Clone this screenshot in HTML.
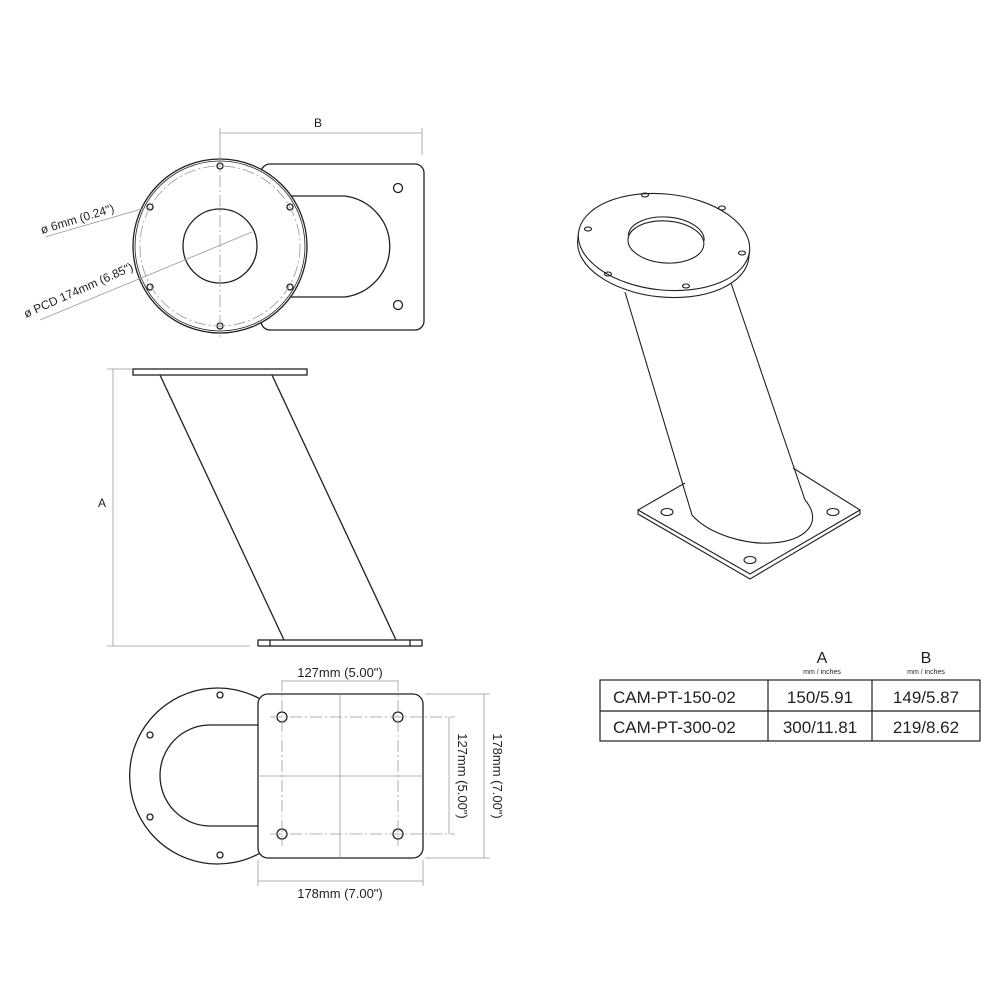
<!DOCTYPE html>
<html><head><meta charset="utf-8"><style>
html,body{margin:0;padding:0;background:#fff;width:1000px;height:1000px;overflow:hidden}
svg{display:block}
text{font-family:"Liberation Sans",sans-serif;fill:#231f20}
</style></head><body>
<svg width="1000" height="1000" viewBox="0 0 1000 1000" xmlns="http://www.w3.org/2000/svg">
<g fill="none" stroke="#231f20" stroke-width="1.3">
<!-- TOP VIEW -->
<rect x="261" y="164" width="163" height="166" rx="9" fill="#fff"/>
<path d="M290 196 L345 196 A52 51 0 0 1 345 297 L290 297"/>
<circle cx="398" cy="188" r="4.5"/><circle cx="398" cy="305" r="4.5"/>
<circle cx="220" cy="246" r="87" fill="#fff"/>
<circle cx="220" cy="246" r="85" stroke-width="0.8"/>
<circle cx="220" cy="246" r="37"/>
<circle cx="220" cy="166" r="3"/><circle cx="220" cy="326" r="3"/>
<circle cx="150" cy="207" r="3"/><circle cx="290" cy="207" r="3"/>
<circle cx="150" cy="287" r="3"/><circle cx="290" cy="287" r="3"/>
</g>
<g fill="none" stroke="#999" stroke-width="0.8">
<circle cx="220" cy="246" r="80" stroke-dasharray="12 3 2 3"/>
<line x1="220" y1="155" x2="220" y2="337" stroke-dasharray="12 3 2 3"/>
<line x1="220" y1="128" x2="220" y2="155"/><line x1="422" y1="128" x2="422" y2="155"/>
<line x1="220" y1="133" x2="422" y2="133"/>
<line x1="45" y1="237" x2="145" y2="208"/>
<line x1="40" y1="320" x2="252" y2="232"/>
</g>
<text x="318" y="127" font-size="12" text-anchor="middle">B</text>
<text x="42" y="234" font-size="12" transform="rotate(-17 42 234)">ø 6mm (0.24")</text>
<text x="26" y="318" font-size="12" transform="rotate(-24 26 318)">ø PCD 174mm (6.85")</text>

<!-- SIDE VIEW -->
<g fill="none" stroke="#231f20" stroke-width="1.3">
<rect x="133" y="369" width="174" height="6"/>
<line x1="160" y1="375" x2="284" y2="640"/>
<line x1="272" y1="375" x2="396" y2="640"/>
<rect x="258" y="640" width="164" height="6"/>
<line x1="270" y1="640" x2="270" y2="646"/><line x1="410" y1="640" x2="410" y2="646"/>
</g>
<g stroke="#999" stroke-width="0.8">
<line x1="113" y1="369" x2="113" y2="646"/>
<line x1="107" y1="369" x2="133" y2="369"/>
<line x1="107" y1="646" x2="250" y2="646"/>
</g>
<text x="102" y="507" font-size="12" text-anchor="middle">A</text>

<!-- BOTTOM VIEW -->
<g fill="none" stroke="#231f20" stroke-width="1.3">
<path d="M262 700 A88 88 0 1 0 262 852"/>
<path d="M258 725 L210 725 A50 50.5 0 0 0 210 826 L258 826"/>
<circle cx="220" cy="695" r="3"/><circle cx="150" cy="735" r="3"/>
<circle cx="150" cy="817" r="3"/><circle cx="220" cy="855" r="3"/>
<rect x="258" y="694" width="165" height="164" rx="10" fill="#fff"/>
<circle cx="282" cy="717" r="5"/><circle cx="398" cy="717" r="5"/>
<circle cx="282" cy="834" r="5"/><circle cx="398" cy="834" r="5"/>
</g>
<g fill="none" stroke="#999" stroke-width="0.8">
<line x1="282" y1="680" x2="282" y2="846" stroke-dasharray="12 3 2 3"/>
<line x1="398" y1="680" x2="398" y2="846" stroke-dasharray="12 3 2 3"/>
<line x1="270" y1="717" x2="455" y2="717" stroke-dasharray="12 3 2 3"/>
<line x1="270" y1="834" x2="455" y2="834" stroke-dasharray="12 3 2 3"/>
<line x1="340" y1="694" x2="340" y2="858"/><line x1="258" y1="776" x2="423" y2="776"/>
<line x1="282" y1="681" x2="398" y2="681"/>
<line x1="449" y1="717" x2="449" y2="834"/>
<line x1="425" y1="694" x2="490" y2="694"/><line x1="425" y1="858" x2="490" y2="858"/>
<line x1="484" y1="694" x2="484" y2="858"/>
<line x1="258" y1="860" x2="258" y2="886"/><line x1="423" y1="860" x2="423" y2="886"/>
<line x1="258" y1="881" x2="423" y2="881"/>
</g>
<text x="340" y="677" font-size="13" text-anchor="middle">127mm (5.00")</text>
<text x="340" y="898" font-size="13" text-anchor="middle">178mm (7.00")</text>
<text x="458" y="776" font-size="13" text-anchor="middle" transform="rotate(90 458 776)">127mm (5.00")</text>
<text x="493" y="776" font-size="13" text-anchor="middle" transform="rotate(90 493 776)">178mm (7.00")</text>

<!-- 3D VIEW -->
<g fill="none" stroke="#231f20" stroke-width="1.1">
<path d="M638 510 L638 514 L750 579 L860 514 L860 510 L750 574 Z" fill="#fff"/>
<path d="M638 510 L685 483 M793 468 L860 510"/>
<path d="M692 515 A58 30 12 0 0 805 500"/>
<line x1="625" y1="292" x2="692" y2="515"/>
<line x1="731" y1="283" x2="805" y2="500"/>
<ellipse cx="667" cy="512" rx="6" ry="3.5"/><ellipse cx="833" cy="512" rx="6" ry="3.5"/><ellipse cx="750" cy="560" rx="6" ry="3.5"/>
<g transform="rotate(6 664 242)">
<path d="M578 242 L578 249 A86 48 0 0 0 750 249 L750 242" fill="#fff"/>
<ellipse cx="664" cy="242" rx="86" ry="48" fill="#fff"/>
</g>
<g transform="rotate(4 666 241)">
<ellipse cx="666" cy="242" rx="38" ry="21"/>
<path d="M628 238 A38 21 0 0 1 704 238"/>
</g>
<ellipse cx="588" cy="229" rx="3.5" ry="2"/><ellipse cx="645" cy="195" rx="3.5" ry="2"/>
<ellipse cx="722" cy="208" rx="3.5" ry="2"/><ellipse cx="742" cy="253" rx="3.5" ry="2"/>
<ellipse cx="608" cy="274" rx="3.5" ry="2"/><ellipse cx="686" cy="286" rx="3.5" ry="2"/>
</g>

<!-- TABLE -->
<g fill="none" stroke="#231f20" stroke-width="1.2">
<rect x="600" y="680" width="380" height="61"/>
<line x1="600" y1="711" x2="980" y2="711"/>
<line x1="768" y1="680" x2="768" y2="741"/>
<line x1="872" y1="680" x2="872" y2="741"/>
</g>
<text x="822" y="663" font-size="16" text-anchor="middle">A</text>
<text x="822" y="674" font-size="7" text-anchor="middle">mm / inches</text>
<text x="926" y="663" font-size="16" text-anchor="middle">B</text>
<text x="926" y="674" font-size="7" text-anchor="middle">mm / inches</text>
<text x="613" y="703" font-size="17">CAM-PT-150-02</text>
<text x="613" y="733" font-size="17">CAM-PT-300-02</text>
<text x="820" y="703" font-size="17" text-anchor="middle">150/5.91</text>
<text x="820" y="733" font-size="17" text-anchor="middle">300/11.81</text>
<text x="926" y="703" font-size="17" text-anchor="middle">149/5.87</text>
<text x="926" y="733" font-size="17" text-anchor="middle">219/8.62</text>
</svg>
</body></html>
